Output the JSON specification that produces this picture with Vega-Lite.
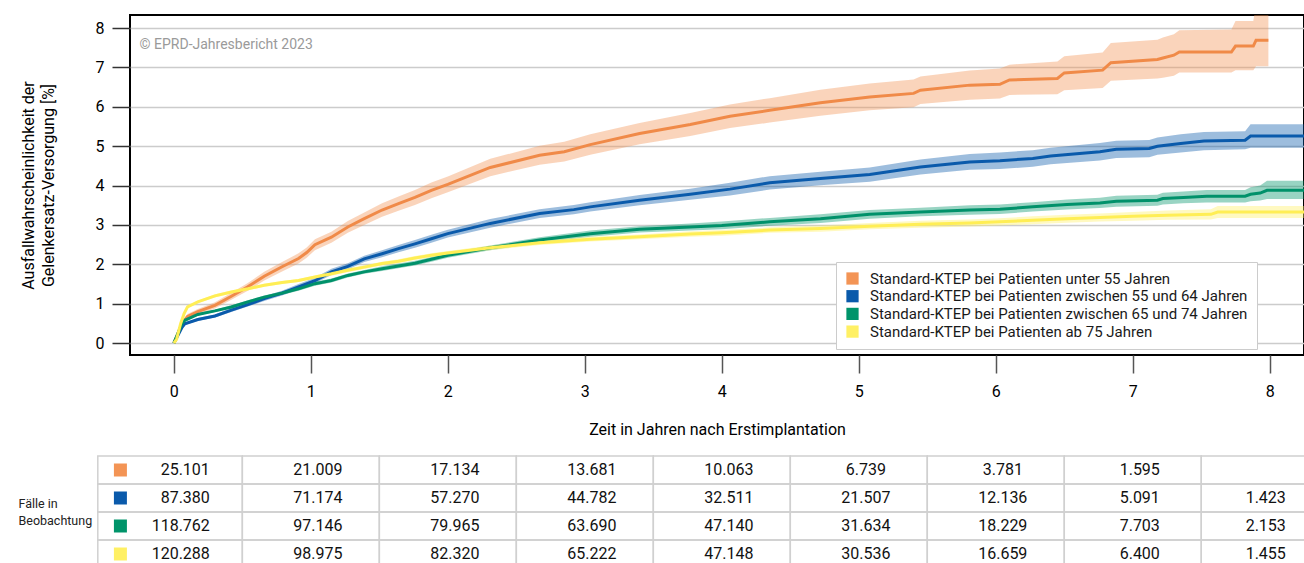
{
  "$schema": "https://vega.github.io/schema/vega-lite/v6.json",
  "width": 1174,
  "height": 340,
  "autosize": {"type": "none"},
  "padding": {"left": 130, "top": 15, "right": 0, "bottom": 208},
  "config": {
    "font": "Roboto",
    "view": {"stroke": "#000000", "strokeWidth": 2},
    "scale": {"continuousPadding": 0},
    "locale": {"number": {"decimal": ",", "thousands": ".", "grouping": [3], "currency": ["", " €"]}}
  },
  "datasets": {
    "km": [
      {"group": "Standard-KTEP bei Patienten unter 55 Jahren", "t": 0, "est": 0, "lo": 0, "hi": 0},
      {"group": "Standard-KTEP bei Patienten unter 55 Jahren", "t": 0.03, "est": 0.25, "lo": 0.22, "hi": 0.28},
      {"group": "Standard-KTEP bei Patienten unter 55 Jahren", "t": 0.06, "est": 0.5, "lo": 0.45, "hi": 0.55},
      {"group": "Standard-KTEP bei Patienten unter 55 Jahren", "t": 0.1, "est": 0.68, "lo": 0.62, "hi": 0.74},
      {"group": "Standard-KTEP bei Patienten unter 55 Jahren", "t": 0.175, "est": 0.8, "lo": 0.73, "hi": 0.87},
      {"group": "Standard-KTEP bei Patienten unter 55 Jahren", "t": 0.3, "est": 0.96, "lo": 0.88, "hi": 1.04},
      {"group": "Standard-KTEP bei Patienten unter 55 Jahren", "t": 0.42, "est": 1.19, "lo": 1.1, "hi": 1.28},
      {"group": "Standard-KTEP bei Patienten unter 55 Jahren", "t": 0.54, "est": 1.43, "lo": 1.33, "hi": 1.53},
      {"group": "Standard-KTEP bei Patienten unter 55 Jahren", "t": 0.66, "est": 1.7, "lo": 1.59, "hi": 1.81},
      {"group": "Standard-KTEP bei Patienten unter 55 Jahren", "t": 0.79, "est": 1.94, "lo": 1.82, "hi": 2.06},
      {"group": "Standard-KTEP bei Patienten unter 55 Jahren", "t": 0.91, "est": 2.15, "lo": 2.02, "hi": 2.28},
      {"group": "Standard-KTEP bei Patienten unter 55 Jahren", "t": 0.97, "est": 2.3, "lo": 2.17, "hi": 2.43},
      {"group": "Standard-KTEP bei Patienten unter 55 Jahren", "t": 1.03, "est": 2.5, "lo": 2.36, "hi": 2.64},
      {"group": "Standard-KTEP bei Patienten unter 55 Jahren", "t": 1.15, "est": 2.69, "lo": 2.55, "hi": 2.83},
      {"group": "Standard-KTEP bei Patienten unter 55 Jahren", "t": 1.27, "est": 2.95, "lo": 2.8, "hi": 3.1},
      {"group": "Standard-KTEP bei Patienten unter 55 Jahren", "t": 1.39, "est": 3.16, "lo": 3.0, "hi": 3.32},
      {"group": "Standard-KTEP bei Patienten unter 55 Jahren", "t": 1.52, "est": 3.38, "lo": 3.21, "hi": 3.55},
      {"group": "Standard-KTEP bei Patienten unter 55 Jahren", "t": 1.64, "est": 3.54, "lo": 3.36, "hi": 3.72},
      {"group": "Standard-KTEP bei Patienten unter 55 Jahren", "t": 1.76, "est": 3.7, "lo": 3.51, "hi": 3.89},
      {"group": "Standard-KTEP bei Patienten unter 55 Jahren", "t": 1.88, "est": 3.88, "lo": 3.68, "hi": 4.08},
      {"group": "Standard-KTEP bei Patienten unter 55 Jahren", "t": 2.0, "est": 4.03, "lo": 3.83, "hi": 4.23},
      {"group": "Standard-KTEP bei Patienten unter 55 Jahren", "t": 2.31, "est": 4.46, "lo": 4.24, "hi": 4.68},
      {"group": "Standard-KTEP bei Patienten unter 55 Jahren", "t": 2.67, "est": 4.77, "lo": 4.53, "hi": 5.01},
      {"group": "Standard-KTEP bei Patienten unter 55 Jahren", "t": 2.85, "est": 4.86, "lo": 4.61, "hi": 5.11},
      {"group": "Standard-KTEP bei Patienten unter 55 Jahren", "t": 3.04, "est": 5.04, "lo": 4.78, "hi": 5.3},
      {"group": "Standard-KTEP bei Patienten unter 55 Jahren", "t": 3.4, "est": 5.32, "lo": 5.05, "hi": 5.59},
      {"group": "Standard-KTEP bei Patienten unter 55 Jahren", "t": 3.77, "est": 5.55, "lo": 5.26, "hi": 5.84},
      {"group": "Standard-KTEP bei Patienten unter 55 Jahren", "t": 4.06, "est": 5.76, "lo": 5.46, "hi": 6.06},
      {"group": "Standard-KTEP bei Patienten unter 55 Jahren", "t": 4.35, "est": 5.91, "lo": 5.6, "hi": 6.22},
      {"group": "Standard-KTEP bei Patienten unter 55 Jahren", "t": 4.72, "est": 6.1, "lo": 5.77, "hi": 6.43},
      {"group": "Standard-KTEP bei Patienten unter 55 Jahren", "t": 5.08, "est": 6.25, "lo": 5.91, "hi": 6.59},
      {"group": "Standard-KTEP bei Patienten unter 55 Jahren", "t": 5.4, "est": 6.34, "lo": 5.99, "hi": 6.69},
      {"group": "Standard-KTEP bei Patienten unter 55 Jahren", "t": 5.45, "est": 6.42, "lo": 6.07, "hi": 6.77},
      {"group": "Standard-KTEP bei Patienten unter 55 Jahren", "t": 5.81, "est": 6.55, "lo": 6.18, "hi": 6.92},
      {"group": "Standard-KTEP bei Patienten unter 55 Jahren", "t": 6.03, "est": 6.57, "lo": 6.21, "hi": 6.97},
      {"group": "Standard-KTEP bei Patienten unter 55 Jahren", "t": 6.1, "est": 6.68, "lo": 6.3, "hi": 7.07},
      {"group": "Standard-KTEP bei Patienten unter 55 Jahren", "t": 6.45, "est": 6.72, "lo": 6.32, "hi": 7.15},
      {"group": "Standard-KTEP bei Patienten unter 55 Jahren", "t": 6.5, "est": 6.86, "lo": 6.42, "hi": 7.28},
      {"group": "Standard-KTEP bei Patienten unter 55 Jahren", "t": 6.78, "est": 6.93, "lo": 6.48, "hi": 7.38},
      {"group": "Standard-KTEP bei Patienten unter 55 Jahren", "t": 6.84, "est": 7.12, "lo": 6.66, "hi": 7.62},
      {"group": "Standard-KTEP bei Patienten unter 55 Jahren", "t": 7.18, "est": 7.2, "lo": 6.72, "hi": 7.7},
      {"group": "Standard-KTEP bei Patienten unter 55 Jahren", "t": 7.22, "est": 7.24, "lo": 6.74, "hi": 7.76},
      {"group": "Standard-KTEP bei Patienten unter 55 Jahren", "t": 7.3, "est": 7.31, "lo": 6.79, "hi": 7.84},
      {"group": "Standard-KTEP bei Patienten unter 55 Jahren", "t": 7.34, "est": 7.39, "lo": 6.87, "hi": 7.94},
      {"group": "Standard-KTEP bei Patienten unter 55 Jahren", "t": 7.72, "est": 7.39, "lo": 6.87, "hi": 7.96},
      {"group": "Standard-KTEP bei Patienten unter 55 Jahren", "t": 7.75, "est": 7.54, "lo": 6.93, "hi": 8.18},
      {"group": "Standard-KTEP bei Patienten unter 55 Jahren", "t": 7.88, "est": 7.54, "lo": 6.93, "hi": 8.18},
      {"group": "Standard-KTEP bei Patienten unter 55 Jahren", "t": 7.9, "est": 7.69, "lo": 7.03, "hi": 8.6},
      {"group": "Standard-KTEP bei Patienten unter 55 Jahren", "t": 7.99, "est": 7.69, "lo": 7.03, "hi": 8.6},

      {"group": "Standard-KTEP bei Patienten zwischen 55 und 64 Jahren", "t": 0, "est": 0, "lo": 0, "hi": 0},
      {"group": "Standard-KTEP bei Patienten zwischen 55 und 64 Jahren", "t": 0.03, "est": 0.2, "lo": 0.18, "hi": 0.22},
      {"group": "Standard-KTEP bei Patienten zwischen 55 und 64 Jahren", "t": 0.06, "est": 0.4, "lo": 0.37, "hi": 0.43},
      {"group": "Standard-KTEP bei Patienten zwischen 55 und 64 Jahren", "t": 0.08, "est": 0.49, "lo": 0.46, "hi": 0.52},
      {"group": "Standard-KTEP bei Patienten zwischen 55 und 64 Jahren", "t": 0.175, "est": 0.6, "lo": 0.56, "hi": 0.64},
      {"group": "Standard-KTEP bei Patienten zwischen 55 und 64 Jahren", "t": 0.3, "est": 0.69, "lo": 0.65, "hi": 0.73},
      {"group": "Standard-KTEP bei Patienten zwischen 55 und 64 Jahren", "t": 0.42, "est": 0.84, "lo": 0.79, "hi": 0.89},
      {"group": "Standard-KTEP bei Patienten zwischen 55 und 64 Jahren", "t": 0.54, "est": 0.98, "lo": 0.93, "hi": 1.03},
      {"group": "Standard-KTEP bei Patienten zwischen 55 und 64 Jahren", "t": 0.66, "est": 1.13, "lo": 1.07, "hi": 1.19},
      {"group": "Standard-KTEP bei Patienten zwischen 55 und 64 Jahren", "t": 0.79, "est": 1.27, "lo": 1.21, "hi": 1.33},
      {"group": "Standard-KTEP bei Patienten zwischen 55 und 64 Jahren", "t": 0.91, "est": 1.43, "lo": 1.36, "hi": 1.5},
      {"group": "Standard-KTEP bei Patienten zwischen 55 und 64 Jahren", "t": 1.03, "est": 1.59, "lo": 1.52, "hi": 1.66},
      {"group": "Standard-KTEP bei Patienten zwischen 55 und 64 Jahren", "t": 1.15, "est": 1.81, "lo": 1.73, "hi": 1.89},
      {"group": "Standard-KTEP bei Patienten zwischen 55 und 64 Jahren", "t": 1.27, "est": 1.95, "lo": 1.87, "hi": 2.03},
      {"group": "Standard-KTEP bei Patienten zwischen 55 und 64 Jahren", "t": 1.39, "est": 2.14, "lo": 2.06, "hi": 2.22},
      {"group": "Standard-KTEP bei Patienten zwischen 55 und 64 Jahren", "t": 1.52, "est": 2.27, "lo": 2.18, "hi": 2.36},
      {"group": "Standard-KTEP bei Patienten zwischen 55 und 64 Jahren", "t": 1.64, "est": 2.4, "lo": 2.31, "hi": 2.49},
      {"group": "Standard-KTEP bei Patienten zwischen 55 und 64 Jahren", "t": 1.76, "est": 2.52, "lo": 2.42, "hi": 2.62},
      {"group": "Standard-KTEP bei Patienten zwischen 55 und 64 Jahren", "t": 1.88, "est": 2.65, "lo": 2.55, "hi": 2.75},
      {"group": "Standard-KTEP bei Patienten zwischen 55 und 64 Jahren", "t": 2.0, "est": 2.78, "lo": 2.68, "hi": 2.88},
      {"group": "Standard-KTEP bei Patienten zwischen 55 und 64 Jahren", "t": 2.31, "est": 3.04, "lo": 2.93, "hi": 3.15},
      {"group": "Standard-KTEP bei Patienten zwischen 55 und 64 Jahren", "t": 2.67, "est": 3.29, "lo": 3.18, "hi": 3.4},
      {"group": "Standard-KTEP bei Patienten zwischen 55 und 64 Jahren", "t": 2.92, "est": 3.39, "lo": 3.27, "hi": 3.51},
      {"group": "Standard-KTEP bei Patienten zwischen 55 und 64 Jahren", "t": 3.04, "est": 3.46, "lo": 3.34, "hi": 3.58},
      {"group": "Standard-KTEP bei Patienten zwischen 55 und 64 Jahren", "t": 3.4, "est": 3.63, "lo": 3.5, "hi": 3.76},
      {"group": "Standard-KTEP bei Patienten zwischen 55 und 64 Jahren", "t": 3.77, "est": 3.78, "lo": 3.64, "hi": 3.92},
      {"group": "Standard-KTEP bei Patienten zwischen 55 und 64 Jahren", "t": 4.06, "est": 3.91, "lo": 3.75, "hi": 4.07},
      {"group": "Standard-KTEP bei Patienten zwischen 55 und 64 Jahren", "t": 4.35, "est": 4.07, "lo": 3.9, "hi": 4.24},
      {"group": "Standard-KTEP bei Patienten zwischen 55 und 64 Jahren", "t": 4.72, "est": 4.18, "lo": 4.01, "hi": 4.35},
      {"group": "Standard-KTEP bei Patienten zwischen 55 und 64 Jahren", "t": 5.08, "est": 4.28, "lo": 4.1, "hi": 4.46},
      {"group": "Standard-KTEP bei Patienten zwischen 55 und 64 Jahren", "t": 5.45, "est": 4.47, "lo": 4.28, "hi": 4.66},
      {"group": "Standard-KTEP bei Patienten zwischen 55 und 64 Jahren", "t": 5.81, "est": 4.6, "lo": 4.4, "hi": 4.8},
      {"group": "Standard-KTEP bei Patienten zwischen 55 und 64 Jahren", "t": 6.03, "est": 4.63, "lo": 4.42, "hi": 4.84},
      {"group": "Standard-KTEP bei Patienten zwischen 55 und 64 Jahren", "t": 6.27, "est": 4.69, "lo": 4.48, "hi": 4.9},
      {"group": "Standard-KTEP bei Patienten zwischen 55 und 64 Jahren", "t": 6.4, "est": 4.75, "lo": 4.54, "hi": 4.96},
      {"group": "Standard-KTEP bei Patienten zwischen 55 und 64 Jahren", "t": 6.76, "est": 4.86, "lo": 4.64, "hi": 5.08},
      {"group": "Standard-KTEP bei Patienten zwischen 55 und 64 Jahren", "t": 6.88, "est": 4.92, "lo": 4.7, "hi": 5.14},
      {"group": "Standard-KTEP bei Patienten zwischen 55 und 64 Jahren", "t": 7.12, "est": 4.94, "lo": 4.72, "hi": 5.16},
      {"group": "Standard-KTEP bei Patienten zwischen 55 und 64 Jahren", "t": 7.18, "est": 5.0, "lo": 4.78, "hi": 5.22},
      {"group": "Standard-KTEP bei Patienten zwischen 55 und 64 Jahren", "t": 7.35, "est": 5.07, "lo": 4.84, "hi": 5.3},
      {"group": "Standard-KTEP bei Patienten zwischen 55 und 64 Jahren", "t": 7.52, "est": 5.13, "lo": 4.9, "hi": 5.36},
      {"group": "Standard-KTEP bei Patienten zwischen 55 und 64 Jahren", "t": 7.82, "est": 5.15, "lo": 4.92, "hi": 5.38},
      {"group": "Standard-KTEP bei Patienten zwischen 55 und 64 Jahren", "t": 7.86, "est": 5.26, "lo": 4.96, "hi": 5.56},
      {"group": "Standard-KTEP bei Patienten zwischen 55 und 64 Jahren", "t": 8.25, "est": 5.26, "lo": 4.96, "hi": 5.56},

      {"group": "Standard-KTEP bei Patienten zwischen 65 und 74 Jahren", "t": 0, "est": 0, "lo": 0, "hi": 0},
      {"group": "Standard-KTEP bei Patienten zwischen 65 und 74 Jahren", "t": 0.03, "est": 0.25, "lo": 0.23, "hi": 0.27},
      {"group": "Standard-KTEP bei Patienten zwischen 65 und 74 Jahren", "t": 0.06, "est": 0.5, "lo": 0.47, "hi": 0.53},
      {"group": "Standard-KTEP bei Patienten zwischen 65 und 74 Jahren", "t": 0.08, "est": 0.58, "lo": 0.55, "hi": 0.61},
      {"group": "Standard-KTEP bei Patienten zwischen 65 und 74 Jahren", "t": 0.175, "est": 0.73, "lo": 0.7, "hi": 0.76},
      {"group": "Standard-KTEP bei Patienten zwischen 65 und 74 Jahren", "t": 0.3, "est": 0.82, "lo": 0.79, "hi": 0.85},
      {"group": "Standard-KTEP bei Patienten zwischen 65 und 74 Jahren", "t": 0.42, "est": 0.92, "lo": 0.88, "hi": 0.96},
      {"group": "Standard-KTEP bei Patienten zwischen 65 und 74 Jahren", "t": 0.54, "est": 1.05, "lo": 1.01, "hi": 1.09},
      {"group": "Standard-KTEP bei Patienten zwischen 65 und 74 Jahren", "t": 0.66, "est": 1.17, "lo": 1.13, "hi": 1.21},
      {"group": "Standard-KTEP bei Patienten zwischen 65 und 74 Jahren", "t": 0.79, "est": 1.27, "lo": 1.22, "hi": 1.32},
      {"group": "Standard-KTEP bei Patienten zwischen 65 und 74 Jahren", "t": 0.91, "est": 1.38, "lo": 1.33, "hi": 1.43},
      {"group": "Standard-KTEP bei Patienten zwischen 65 und 74 Jahren", "t": 1.03, "est": 1.51, "lo": 1.46, "hi": 1.56},
      {"group": "Standard-KTEP bei Patienten zwischen 65 und 74 Jahren", "t": 1.15, "est": 1.59, "lo": 1.54, "hi": 1.64},
      {"group": "Standard-KTEP bei Patienten zwischen 65 und 74 Jahren", "t": 1.27, "est": 1.72, "lo": 1.67, "hi": 1.77},
      {"group": "Standard-KTEP bei Patienten zwischen 65 und 74 Jahren", "t": 1.39, "est": 1.81, "lo": 1.76, "hi": 1.86},
      {"group": "Standard-KTEP bei Patienten zwischen 65 und 74 Jahren", "t": 1.52, "est": 1.89, "lo": 1.83, "hi": 1.95},
      {"group": "Standard-KTEP bei Patienten zwischen 65 und 74 Jahren", "t": 1.64, "est": 1.96, "lo": 1.9, "hi": 2.02},
      {"group": "Standard-KTEP bei Patienten zwischen 65 und 74 Jahren", "t": 1.76, "est": 2.03, "lo": 1.97, "hi": 2.09},
      {"group": "Standard-KTEP bei Patienten zwischen 65 und 74 Jahren", "t": 1.88, "est": 2.13, "lo": 2.07, "hi": 2.19},
      {"group": "Standard-KTEP bei Patienten zwischen 65 und 74 Jahren", "t": 2.0, "est": 2.23, "lo": 2.17, "hi": 2.29},
      {"group": "Standard-KTEP bei Patienten zwischen 65 und 74 Jahren", "t": 2.31, "est": 2.42, "lo": 2.36, "hi": 2.48},
      {"group": "Standard-KTEP bei Patienten zwischen 65 und 74 Jahren", "t": 2.67, "est": 2.62, "lo": 2.55, "hi": 2.69},
      {"group": "Standard-KTEP bei Patienten zwischen 65 und 74 Jahren", "t": 3.04, "est": 2.78, "lo": 2.7, "hi": 2.86},
      {"group": "Standard-KTEP bei Patienten zwischen 65 und 74 Jahren", "t": 3.4, "est": 2.89, "lo": 2.81, "hi": 2.97},
      {"group": "Standard-KTEP bei Patienten zwischen 65 und 74 Jahren", "t": 3.77, "est": 2.95, "lo": 2.86, "hi": 3.04},
      {"group": "Standard-KTEP bei Patienten zwischen 65 und 74 Jahren", "t": 4.0, "est": 2.99, "lo": 2.89, "hi": 3.09},
      {"group": "Standard-KTEP bei Patienten zwischen 65 und 74 Jahren", "t": 4.35, "est": 3.08, "lo": 2.98, "hi": 3.18},
      {"group": "Standard-KTEP bei Patienten zwischen 65 und 74 Jahren", "t": 4.72, "est": 3.16, "lo": 3.05, "hi": 3.27},
      {"group": "Standard-KTEP bei Patienten zwischen 65 und 74 Jahren", "t": 5.08, "est": 3.27, "lo": 3.16, "hi": 3.38},
      {"group": "Standard-KTEP bei Patienten zwischen 65 und 74 Jahren", "t": 5.45, "est": 3.33, "lo": 3.22, "hi": 3.44},
      {"group": "Standard-KTEP bei Patienten zwischen 65 und 74 Jahren", "t": 5.81, "est": 3.38, "lo": 3.26, "hi": 3.5},
      {"group": "Standard-KTEP bei Patienten zwischen 65 und 74 Jahren", "t": 6.03, "est": 3.4, "lo": 3.28, "hi": 3.52},
      {"group": "Standard-KTEP bei Patienten zwischen 65 und 74 Jahren", "t": 6.27, "est": 3.46, "lo": 3.34, "hi": 3.58},
      {"group": "Standard-KTEP bei Patienten zwischen 65 und 74 Jahren", "t": 6.52, "est": 3.52, "lo": 3.39, "hi": 3.65},
      {"group": "Standard-KTEP bei Patienten zwischen 65 und 74 Jahren", "t": 6.76, "est": 3.56, "lo": 3.43, "hi": 3.69},
      {"group": "Standard-KTEP bei Patienten zwischen 65 und 74 Jahren", "t": 6.88, "est": 3.6, "lo": 3.46, "hi": 3.74},
      {"group": "Standard-KTEP bei Patienten zwischen 65 und 74 Jahren", "t": 7.18, "est": 3.63, "lo": 3.49, "hi": 3.77},
      {"group": "Standard-KTEP bei Patienten zwischen 65 und 74 Jahren", "t": 7.22, "est": 3.67, "lo": 3.52, "hi": 3.82},
      {"group": "Standard-KTEP bei Patienten zwischen 65 und 74 Jahren", "t": 7.37, "est": 3.7, "lo": 3.55, "hi": 3.85},
      {"group": "Standard-KTEP bei Patienten zwischen 65 und 74 Jahren", "t": 7.54, "est": 3.73, "lo": 3.57, "hi": 3.89},
      {"group": "Standard-KTEP bei Patienten zwischen 65 und 74 Jahren", "t": 7.82, "est": 3.73, "lo": 3.57, "hi": 3.89},
      {"group": "Standard-KTEP bei Patienten zwischen 65 und 74 Jahren", "t": 7.86, "est": 3.78, "lo": 3.6, "hi": 3.96},
      {"group": "Standard-KTEP bei Patienten zwischen 65 und 74 Jahren", "t": 7.93, "est": 3.81, "lo": 3.62, "hi": 4.0},
      {"group": "Standard-KTEP bei Patienten zwischen 65 und 74 Jahren", "t": 7.98, "est": 3.88, "lo": 3.66, "hi": 4.12},
      {"group": "Standard-KTEP bei Patienten zwischen 65 und 74 Jahren", "t": 8.25, "est": 3.88, "lo": 3.66, "hi": 4.12},

      {"group": "Standard-KTEP bei Patienten ab 75 Jahren", "t": 0, "est": 0, "lo": 0, "hi": 0},
      {"group": "Standard-KTEP bei Patienten ab 75 Jahren", "t": 0.02, "est": 0.1, "lo": 0.09, "hi": 0.11},
      {"group": "Standard-KTEP bei Patienten ab 75 Jahren", "t": 0.035, "est": 0.3, "lo": 0.28, "hi": 0.32},
      {"group": "Standard-KTEP bei Patienten ab 75 Jahren", "t": 0.05, "est": 0.5, "lo": 0.47, "hi": 0.53},
      {"group": "Standard-KTEP bei Patienten ab 75 Jahren", "t": 0.075, "est": 0.75, "lo": 0.72, "hi": 0.78},
      {"group": "Standard-KTEP bei Patienten ab 75 Jahren", "t": 0.1, "est": 0.92, "lo": 0.89, "hi": 0.95},
      {"group": "Standard-KTEP bei Patienten ab 75 Jahren", "t": 0.175, "est": 1.05, "lo": 1.02, "hi": 1.08},
      {"group": "Standard-KTEP bei Patienten ab 75 Jahren", "t": 0.3, "est": 1.2, "lo": 1.16, "hi": 1.24},
      {"group": "Standard-KTEP bei Patienten ab 75 Jahren", "t": 0.42, "est": 1.3, "lo": 1.26, "hi": 1.34},
      {"group": "Standard-KTEP bei Patienten ab 75 Jahren", "t": 0.54, "est": 1.38, "lo": 1.34, "hi": 1.42},
      {"group": "Standard-KTEP bei Patienten ab 75 Jahren", "t": 0.66, "est": 1.47, "lo": 1.43, "hi": 1.51},
      {"group": "Standard-KTEP bei Patienten ab 75 Jahren", "t": 0.79, "est": 1.54, "lo": 1.5, "hi": 1.58},
      {"group": "Standard-KTEP bei Patienten ab 75 Jahren", "t": 0.91, "est": 1.59, "lo": 1.55, "hi": 1.63},
      {"group": "Standard-KTEP bei Patienten ab 75 Jahren", "t": 1.03, "est": 1.68, "lo": 1.64, "hi": 1.72},
      {"group": "Standard-KTEP bei Patienten ab 75 Jahren", "t": 1.15, "est": 1.76, "lo": 1.71, "hi": 1.81},
      {"group": "Standard-KTEP bei Patienten ab 75 Jahren", "t": 1.27, "est": 1.85, "lo": 1.8, "hi": 1.9},
      {"group": "Standard-KTEP bei Patienten ab 75 Jahren", "t": 1.39, "est": 1.93, "lo": 1.88, "hi": 1.98},
      {"group": "Standard-KTEP bei Patienten ab 75 Jahren", "t": 1.52, "est": 2.02, "lo": 1.97, "hi": 2.07},
      {"group": "Standard-KTEP bei Patienten ab 75 Jahren", "t": 1.64, "est": 2.08, "lo": 2.03, "hi": 2.13},
      {"group": "Standard-KTEP bei Patienten ab 75 Jahren", "t": 1.76, "est": 2.16, "lo": 2.11, "hi": 2.21},
      {"group": "Standard-KTEP bei Patienten ab 75 Jahren", "t": 1.88, "est": 2.23, "lo": 2.18, "hi": 2.28},
      {"group": "Standard-KTEP bei Patienten ab 75 Jahren", "t": 2.0, "est": 2.29, "lo": 2.24, "hi": 2.34},
      {"group": "Standard-KTEP bei Patienten ab 75 Jahren", "t": 2.31, "est": 2.42, "lo": 2.36, "hi": 2.48},
      {"group": "Standard-KTEP bei Patienten ab 75 Jahren", "t": 2.67, "est": 2.55, "lo": 2.49, "hi": 2.61},
      {"group": "Standard-KTEP bei Patienten ab 75 Jahren", "t": 3.04, "est": 2.64, "lo": 2.58, "hi": 2.7},
      {"group": "Standard-KTEP bei Patienten ab 75 Jahren", "t": 3.4, "est": 2.7, "lo": 2.64, "hi": 2.76},
      {"group": "Standard-KTEP bei Patienten ab 75 Jahren", "t": 3.77, "est": 2.77, "lo": 2.7, "hi": 2.84},
      {"group": "Standard-KTEP bei Patienten ab 75 Jahren", "t": 4.0, "est": 2.8, "lo": 2.73, "hi": 2.87},
      {"group": "Standard-KTEP bei Patienten ab 75 Jahren", "t": 4.35, "est": 2.87, "lo": 2.8, "hi": 2.94},
      {"group": "Standard-KTEP bei Patienten ab 75 Jahren", "t": 4.72, "est": 2.91, "lo": 2.83, "hi": 2.99},
      {"group": "Standard-KTEP bei Patienten ab 75 Jahren", "t": 5.08, "est": 2.97, "lo": 2.89, "hi": 3.05},
      {"group": "Standard-KTEP bei Patienten ab 75 Jahren", "t": 5.45, "est": 3.02, "lo": 2.93, "hi": 3.11},
      {"group": "Standard-KTEP bei Patienten ab 75 Jahren", "t": 5.81, "est": 3.05, "lo": 2.96, "hi": 3.14},
      {"group": "Standard-KTEP bei Patienten ab 75 Jahren", "t": 6.03, "est": 3.08, "lo": 2.99, "hi": 3.17},
      {"group": "Standard-KTEP bei Patienten ab 75 Jahren", "t": 6.27, "est": 3.12, "lo": 3.02, "hi": 3.22},
      {"group": "Standard-KTEP bei Patienten ab 75 Jahren", "t": 6.52, "est": 3.16, "lo": 3.06, "hi": 3.26},
      {"group": "Standard-KTEP bei Patienten ab 75 Jahren", "t": 6.76, "est": 3.19, "lo": 3.09, "hi": 3.29},
      {"group": "Standard-KTEP bei Patienten ab 75 Jahren", "t": 7.0, "est": 3.22, "lo": 3.11, "hi": 3.33},
      {"group": "Standard-KTEP bei Patienten ab 75 Jahren", "t": 7.25, "est": 3.25, "lo": 3.13, "hi": 3.37},
      {"group": "Standard-KTEP bei Patienten ab 75 Jahren", "t": 7.57, "est": 3.27, "lo": 3.14, "hi": 3.4},
      {"group": "Standard-KTEP bei Patienten ab 75 Jahren", "t": 7.62, "est": 3.33, "lo": 3.18, "hi": 3.48},
      {"group": "Standard-KTEP bei Patienten ab 75 Jahren", "t": 8.25, "est": 3.33, "lo": 3.18, "hi": 3.48}
    ],
    "risk": [
      {"group": "Standard-KTEP bei Patienten unter 55 Jahren", "year": 0, "n": 25101},
      {"group": "Standard-KTEP bei Patienten unter 55 Jahren", "year": 1, "n": 21009},
      {"group": "Standard-KTEP bei Patienten unter 55 Jahren", "year": 2, "n": 17134},
      {"group": "Standard-KTEP bei Patienten unter 55 Jahren", "year": 3, "n": 13681},
      {"group": "Standard-KTEP bei Patienten unter 55 Jahren", "year": 4, "n": 10063},
      {"group": "Standard-KTEP bei Patienten unter 55 Jahren", "year": 5, "n": 6739},
      {"group": "Standard-KTEP bei Patienten unter 55 Jahren", "year": 6, "n": 3781},
      {"group": "Standard-KTEP bei Patienten unter 55 Jahren", "year": 7, "n": 1595},
      {"group": "Standard-KTEP bei Patienten unter 55 Jahren", "year": 8, "n": null},
      {"group": "Standard-KTEP bei Patienten zwischen 55 und 64 Jahren", "year": 0, "n": 87380},
      {"group": "Standard-KTEP bei Patienten zwischen 55 und 64 Jahren", "year": 1, "n": 71174},
      {"group": "Standard-KTEP bei Patienten zwischen 55 und 64 Jahren", "year": 2, "n": 57270},
      {"group": "Standard-KTEP bei Patienten zwischen 55 und 64 Jahren", "year": 3, "n": 44782},
      {"group": "Standard-KTEP bei Patienten zwischen 55 und 64 Jahren", "year": 4, "n": 32511},
      {"group": "Standard-KTEP bei Patienten zwischen 55 und 64 Jahren", "year": 5, "n": 21507},
      {"group": "Standard-KTEP bei Patienten zwischen 55 und 64 Jahren", "year": 6, "n": 12136},
      {"group": "Standard-KTEP bei Patienten zwischen 55 und 64 Jahren", "year": 7, "n": 5091},
      {"group": "Standard-KTEP bei Patienten zwischen 55 und 64 Jahren", "year": 8, "n": 1423},
      {"group": "Standard-KTEP bei Patienten zwischen 65 und 74 Jahren", "year": 0, "n": 118762},
      {"group": "Standard-KTEP bei Patienten zwischen 65 und 74 Jahren", "year": 1, "n": 97146},
      {"group": "Standard-KTEP bei Patienten zwischen 65 und 74 Jahren", "year": 2, "n": 79965},
      {"group": "Standard-KTEP bei Patienten zwischen 65 und 74 Jahren", "year": 3, "n": 63690},
      {"group": "Standard-KTEP bei Patienten zwischen 65 und 74 Jahren", "year": 4, "n": 47140},
      {"group": "Standard-KTEP bei Patienten zwischen 65 und 74 Jahren", "year": 5, "n": 31634},
      {"group": "Standard-KTEP bei Patienten zwischen 65 und 74 Jahren", "year": 6, "n": 18229},
      {"group": "Standard-KTEP bei Patienten zwischen 65 und 74 Jahren", "year": 7, "n": 7703},
      {"group": "Standard-KTEP bei Patienten zwischen 65 und 74 Jahren", "year": 8, "n": 2153},
      {"group": "Standard-KTEP bei Patienten ab 75 Jahren", "year": 0, "n": 120288},
      {"group": "Standard-KTEP bei Patienten ab 75 Jahren", "year": 1, "n": 98975},
      {"group": "Standard-KTEP bei Patienten ab 75 Jahren", "year": 2, "n": 82320},
      {"group": "Standard-KTEP bei Patienten ab 75 Jahren", "year": 3, "n": 65222},
      {"group": "Standard-KTEP bei Patienten ab 75 Jahren", "year": 4, "n": 47148},
      {"group": "Standard-KTEP bei Patienten ab 75 Jahren", "year": 5, "n": 30536},
      {"group": "Standard-KTEP bei Patienten ab 75 Jahren", "year": 6, "n": 16659},
      {"group": "Standard-KTEP bei Patienten ab 75 Jahren", "year": 7, "n": 6400},
      {"group": "Standard-KTEP bei Patienten ab 75 Jahren", "year": 8, "n": 1455}
    ]
  },
  "layer": [
    {
      "data": {"name": "km"},
      "layer": [
        {
          "mark": {"type": "area", "opacity": 0.4, "clip": true},
          "encoding": {
            "x": {
              "field": "t", "type": "quantitative",
              "scale": {"domain": [-0.32, 8.25], "nice": false, "zero": false, "padding": 0},
              "axis": {
                "values": [0, 1, 2, 3, 4, 5, 6, 7, 8],
                "format": "d",
                "grid": false, "domain": false,
                "tickSize": 18, "tickColor": "#555555", "tickWidth": 1.5,
                "labelFontSize": 16, "labelPadding": 10, "labelColor": "#000000",
                "title": "Zeit in Jahren nach Erstimplantation",
                "titleFontSize": 16, "titleFontWeight": "normal", "titleColor": "#000000", "titlePadding": 22
              }
            },
            "y": {
              "field": "lo", "type": "quantitative",
              "scale": {"domain": [-0.3, 8.33], "nice": false, "zero": false},
              "axis": {
                "values": [0, 1, 2, 3, 4, 5, 6, 7, 8],
                "format": "d",
                "grid": true, "gridColor": "#cccccc", "gridWidth": 1.5,
                "domain": false,
                "tickSize": 18, "tickColor": "#333333", "tickWidth": 1.5,
                "labelFontSize": 16, "labelPadding": 8, "labelColor": "#000000",
                "title": ["Ausfallwahrscheinlichkeit der", "Gelenkersatz-Versorgung [%]"],
                "titleFontSize": 16, "titleFontWeight": "normal", "titleColor": "#000000",
                "titlePadding": 39, "titleLineHeight": 20
              }
            },
            "y2": {"field": "hi"},
            "fill": {
              "field": "group", "type": "nominal",
              "scale": {
                "domain": [
                  "Standard-KTEP bei Patienten unter 55 Jahren",
                  "Standard-KTEP bei Patienten zwischen 55 und 64 Jahren",
                  "Standard-KTEP bei Patienten zwischen 65 und 74 Jahren",
                  "Standard-KTEP bei Patienten ab 75 Jahren"
                ],
                "range": ["#f39455", "#0a5aab", "#00946a", "#fff064"]
              },
              "legend": {
                "orient": "none", "legendX": 706, "legendY": 247,
                "title": null,
                "symbolType": "square", "symbolSize": 150, "symbolOpacity": 1, "symbolStrokeWidth": 0,
                "labelFontSize": 15, "labelColor": "#1a1a1a", "labelLimit": 500, "labelOffset": 10,
                "fillColor": "#ffffff", "strokeColor": "#cccccc",
                "padding": 9, "rowPadding": 1.7
              }
            }
          }
        },
        {
          "mark": {"type": "line", "strokeWidth": 3, "clip": true},
          "encoding": {
            "x": {"field": "t", "type": "quantitative", "scale": {"domain": [-0.32, 8.25], "nice": false, "zero": false, "padding": 0}},
            "y": {"field": "est", "type": "quantitative"},
            "stroke": {
              "field": "group", "type": "nominal",
              "scale": {
                "domain": [
                  "Standard-KTEP bei Patienten unter 55 Jahren",
                  "Standard-KTEP bei Patienten zwischen 55 und 64 Jahren",
                  "Standard-KTEP bei Patienten zwischen 65 und 74 Jahren",
                  "Standard-KTEP bei Patienten ab 75 Jahren"
                ],
                "range": ["#f08a48", "#0a5aab", "#00916a", "#ffee55"]
              },
              "legend": null
            }
          }
        },
        {
          "data": {"values": [{}]},
          "mark": {"type": "text", "align": "left", "baseline": "middle", "fontSize": 14, "color": "#9a9a9a"},
          "encoding": {
            "x": {"datum": -0.25, "type": "quantitative", "scale": {"domain": [-0.32, 8.25], "nice": false, "zero": false, "padding": 0}},
            "y": {"datum": 7.56, "type": "quantitative"},
            "text": {"value": "© EPRD-Jahresbericht 2023"}
          }
        }
      ]
    },
    {
      "data": {"name": "risk"},
      "encoding": {
        "y": {
          "field": "group", "type": "nominal",
          "scale": {
            "domain": [
              "Standard-KTEP bei Patienten unter 55 Jahren",
              "Standard-KTEP bei Patienten zwischen 55 und 64 Jahren",
              "Standard-KTEP bei Patienten zwischen 65 und 74 Jahren",
              "Standard-KTEP bei Patienten ab 75 Jahren"
            ],
            "range": [441, 553],
            "paddingInner": 0, "paddingOuter": 0
          },
          "axis": null
        }
      },
      "layer": [
        {
          "transform": [{"filter": "datum.year >= 1"}],
          "mark": {"type": "bar", "orient": "vertical", "width": 137, "fill": "transparent", "stroke": "#d0d0d0", "strokeWidth": 1.5},
          "encoding": {
            "x": {"field": "year", "type": "quantitative", "scale": {"domain": [-0.32, 8.25], "nice": false, "zero": false, "padding": 0}}
          }
        },
        {
          "transform": [{"filter": "datum.year == 0"}],
          "mark": {"type": "rect", "fill": "transparent", "stroke": "#d0d0d0", "strokeWidth": 1.5},
          "encoding": {
            "x": {"datum": -0.555, "type": "quantitative", "scale": {"domain": [-0.32, 8.25], "nice": false, "zero": false, "padding": 0}},
            "x2": {"datum": 0.5}
          }
        },
        {
          "transform": [{"filter": "datum.year == 0"}],
          "mark": {"type": "square", "size": 169, "opacity": 1},
          "encoding": {
            "x": {"datum": -0.39, "type": "quantitative", "scale": {"domain": [-0.32, 8.25], "nice": false, "zero": false, "padding": 0}},
            "fill": {"field": "group", "type": "nominal"}
          }
        },
        {
          "transform": [{"filter": "datum.year == 0"}],
          "mark": {"type": "text", "align": "right", "baseline": "middle", "dx": 36, "fontSize": 16, "color": "#111111"},
          "encoding": {
            "x": {"field": "year", "type": "quantitative", "scale": {"domain": [-0.32, 8.25], "nice": false, "zero": false, "padding": 0}},
            "text": {"field": "n", "type": "quantitative", "format": ",d"}
          }
        },
        {
          "transform": [{"filter": "datum.year >= 1 && datum.year <= 7"}],
          "mark": {"type": "text", "align": "center", "baseline": "middle", "dx": 7, "fontSize": 16, "color": "#111111"},
          "encoding": {
            "x": {"field": "year", "type": "quantitative", "scale": {"domain": [-0.32, 8.25], "nice": false, "zero": false, "padding": 0}},
            "text": {"field": "n", "type": "quantitative", "format": ",d"}
          }
        },
        {
          "transform": [{"filter": "datum.year == 8 && isValid(datum.n)"}],
          "mark": {"type": "text", "align": "center", "baseline": "middle", "dx": -4, "fontSize": 16, "color": "#111111"},
          "encoding": {
            "x": {"field": "year", "type": "quantitative", "scale": {"domain": [-0.32, 8.25], "nice": false, "zero": false, "padding": 0}},
            "text": {"field": "n", "type": "quantitative", "format": ",d"}
          }
        },
        {
          "data": {"values": [{}]},
          "mark": {"type": "text", "align": "left", "baseline": "middle", "dy": 6, "fontSize": 12.5, "lineHeight": 17, "color": "#222222"},
          "encoding": {
            "x": {"datum": -1.134, "type": "quantitative", "scale": {"domain": [-0.32, 8.25], "nice": false, "zero": false, "padding": 0}},
            "y": {"datum": "Standard-KTEP bei Patienten zwischen 55 und 64 Jahren", "type": "nominal"},
            "text": {"value": ["Fälle in", "Beobachtung"]}
          }
        }
      ]
    }
  ],
  "resolve": {"scale": {"y": "independent"}}
}
